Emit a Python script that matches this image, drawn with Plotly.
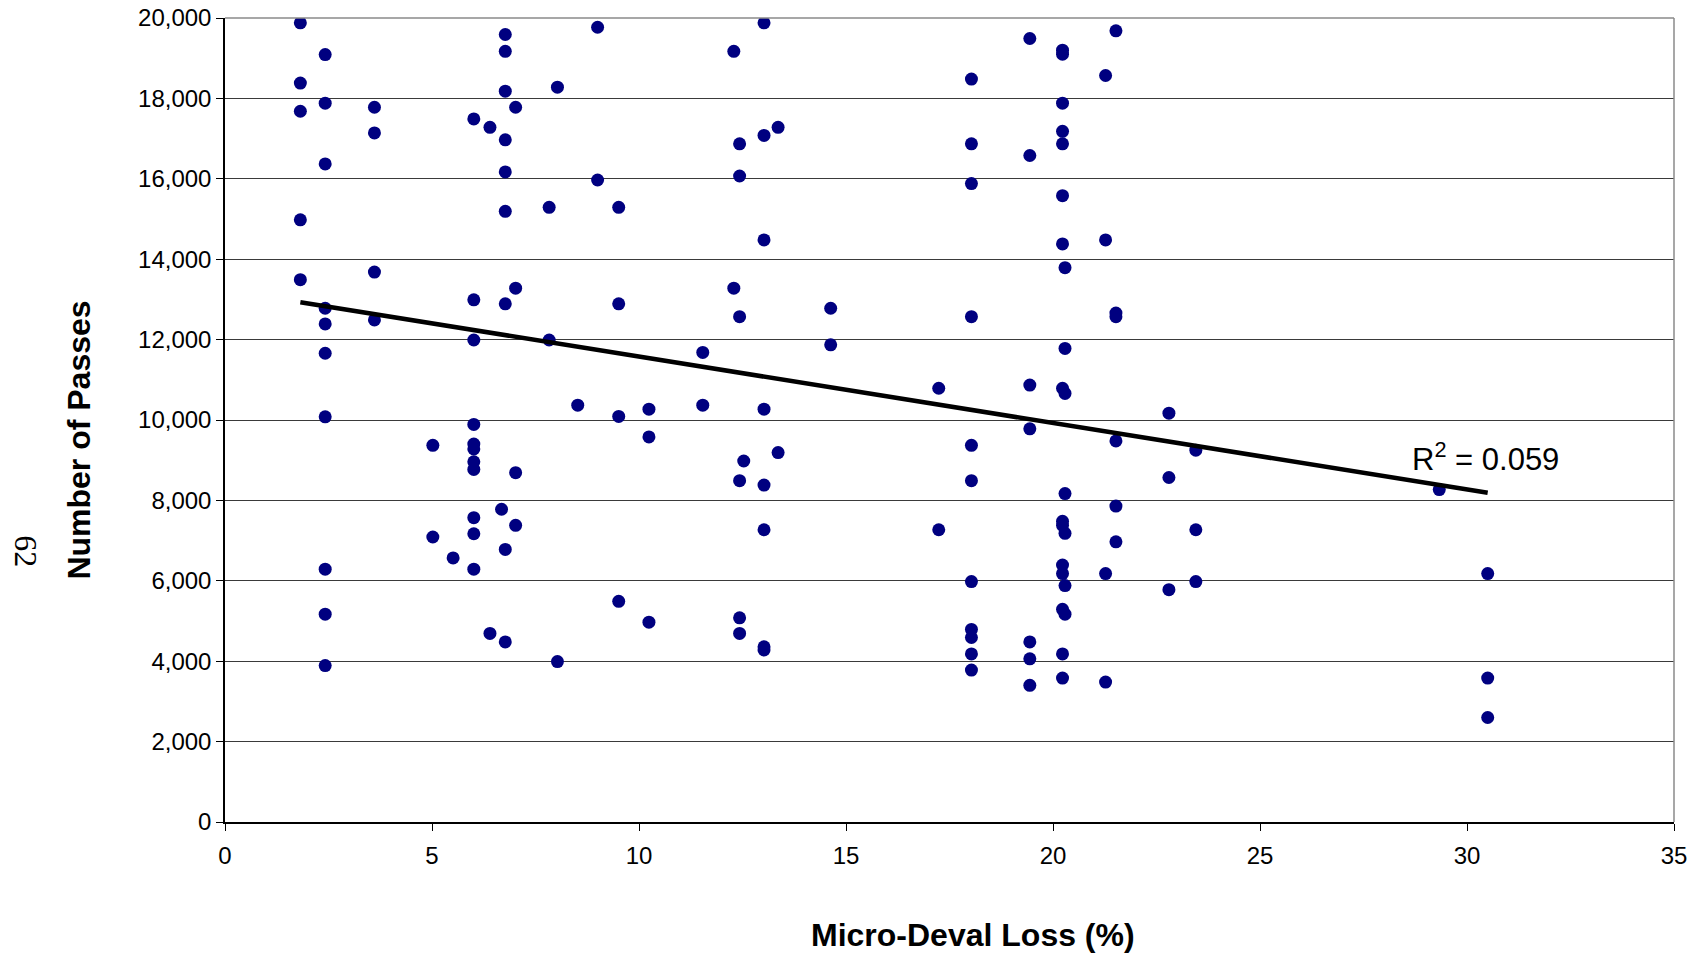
import numpy as np
import plotly.graph_objects as go

# Micro-Deval loss (%) and number of passes
loss = [
    1.82, 1.82, 1.82, 1.82, 1.82,
    2.42, 2.42, 2.42, 2.42, 2.42, 2.42, 2.42, 2.42, 2.42, 2.42,
    3.61, 3.61, 3.61, 3.61,
    5.02, 5.02,
    5.51,
    6.01, 6.01, 6.01, 6.01, 6.01, 6.01, 6.01, 6.01, 6.01, 6.01, 6.01,
    6.40, 6.40,
    6.68,
    6.77, 6.77, 6.77, 6.77, 6.77, 6.77, 6.77, 6.77, 6.77,
    7.02, 7.02, 7.02, 7.02,
    7.83, 7.83,
    8.03, 8.03,
    8.52,
    9.00, 9.00,
    9.51, 9.51, 9.51, 9.51,
    10.24, 10.24, 10.24,
    11.54, 11.54,
    12.29, 12.29,
    12.43, 12.43, 12.43, 12.43, 12.43, 12.43,
    12.53,
    13.02, 13.02, 13.02, 13.02, 13.02, 13.02, 13.02, 13.02,
    13.36, 13.36,
    14.63, 14.63,
    17.24, 17.24,
    18.03, 18.03, 18.03, 18.03, 18.03, 18.03, 18.03, 18.03, 18.03, 18.03, 18.03,
    19.44, 19.44, 19.44, 19.44, 19.44, 19.44, 19.44,
    20.23, 20.23, 20.23, 20.23, 20.23, 20.23, 20.23, 20.23, 20.23, 20.23, 20.23, 20.23, 20.23, 20.23, 20.23,
    20.29, 20.29, 20.29, 20.29, 20.29, 20.29, 20.29,
    21.27, 21.27, 21.27, 21.27,
    21.52, 21.52, 21.52, 21.52, 21.52, 21.52,
    22.80, 22.80, 22.80,
    23.45, 23.45, 23.45,
    29.33,
    30.50, 30.50, 30.50,
]

passes = [
    19880, 18380, 17680, 14980, 13490,
    19090, 17880, 16370, 12780, 12390, 11660, 10080, 6290, 5170, 3890,
    17780, 17140, 13680, 12490,
    9370, 7090,
    6570,
    17490, 12990, 11990, 9890, 9400, 9280, 8960, 8770, 7570, 7170, 6290,
    17280, 4690,
    7780,
    19590, 19170, 18180, 16970, 16170, 15190, 12890, 6780, 4480,
    17780, 13280, 8690, 7380,
    15290, 11990,
    18280, 3990,
    10370,
    19770, 15970,
    15290, 12890, 10090, 5490,
    10270, 9580, 4970,
    11680, 10370,
    19170, 13280,
    16870, 16070, 12570, 8490, 5080, 4690,
    8980,
    19880, 17080, 14480, 10270, 8380, 7270, 4360, 4280,
    17280, 9190,
    12780, 11870,
    10790, 7270,
    18480, 16870, 15880, 12570, 9370, 8490, 5980, 4790, 4590, 4180, 3780,
    19490, 16580, 10870, 9780, 4480, 4060, 3400,
    19200, 19100, 17880, 17180, 16870, 15580, 14380, 10790, 7480, 7380, 6390, 6180, 5290, 4180, 3580,
    13790, 11780, 10660, 8170, 7180, 5880, 5170,
    18570, 14480, 6180, 3480,
    19680, 12660, 12570, 9480, 7860, 6970,
    10170, 8570, 5780,
    9250, 7270, 5980,
    8270,
    6180, 3580, 2600,
]

# Linear trend line as drawn in the chart: passes at the lowest and highest loss
trend_passes = [12930, 8190]

x_title = "Micro-Deval Loss (%)"
y_title = "Number of Passes"
r2_label = "R<sup>2</sup> = 0.059"
page_number = "62"

trend_x = [min(loss), max(loss)]

FONT = "Liberation Sans, Arial, sans-serif"

fig = go.Figure()
fig.add_trace(go.Scatter(
    x=loss, y=passes, mode="markers",
    marker=dict(color="#000080", size=13, line=dict(width=0)),
    showlegend=False, hoverinfo="x+y",
))
fig.add_trace(go.Scatter(
    x=trend_x, y=trend_passes, mode="lines",
    line=dict(color="#000000", width=4.5),
    showlegend=False, hoverinfo="skip",
))

fig.update_layout(
    width=1701, height=958,
    margin=dict(l=225, r=27, t=18, b=136, autoexpand=False),
    paper_bgcolor="white", plot_bgcolor="white",
    font=dict(family=FONT, color="#000000", size=24),
    xaxis=dict(
        range=[0, 35], dtick=5, tick0=0,
        showgrid=False, zeroline=False, automargin=False,
        showline=True, linecolor="#000000", linewidth=1.5,
        ticks="outside", ticklen=7, tickcolor="#000000", tickwidth=1,
        ticklabelstandoff=4,
        tickfont=dict(size=24, family=FONT),
    ),
    yaxis=dict(
        range=[0, 20000], dtick=2000, tick0=0, tickformat=",d",
        showgrid=True, gridcolor="#3a3a3a", gridwidth=1,
        zeroline=False, automargin=False,
        showline=True, linecolor="#000000", linewidth=1.5,
        ticks="outside", ticklen=7, tickcolor="#000000", tickwidth=1,
        tickfont=dict(size=24, family=FONT),
    ),
    shapes=[
        dict(type="line", xref="paper", yref="paper", x0=0, x1=1, y0=1, y1=1,
             line=dict(color="#8a8a8a", width=1.5)),
        dict(type="line", xref="paper", yref="paper", x0=1, x1=1, y0=0, y1=1,
             line=dict(color="#8a8a8a", width=1.5)),
    ],
    annotations=[
        dict(text=r2_label, x=30.45, y=9090, xref="x", yref="y",
             xanchor="center", yanchor="middle",
             showarrow=False, font=dict(size=31, family=FONT)),
        dict(text=f"<b>{x_title}</b>", x=0.5164, y=-0.1406, xref="paper", yref="paper",
             xanchor="center", yanchor="middle",
             showarrow=False, font=dict(size=32, family=FONT)),
        dict(text=f"<b>{y_title}</b>", x=-0.1004, y=0.475, xref="paper", yref="paper",
             xanchor="center", yanchor="middle",
             textangle=-90, showarrow=False, font=dict(size=32, family=FONT)),
        dict(text=page_number, x=-0.137, y=0.336, xref="paper", yref="paper",
             xanchor="center", yanchor="middle",
             textangle=90, showarrow=False,
             font=dict(size=32, family="Liberation Serif, Times New Roman, serif")),
    ],
)

fig.write_html("out.html")
